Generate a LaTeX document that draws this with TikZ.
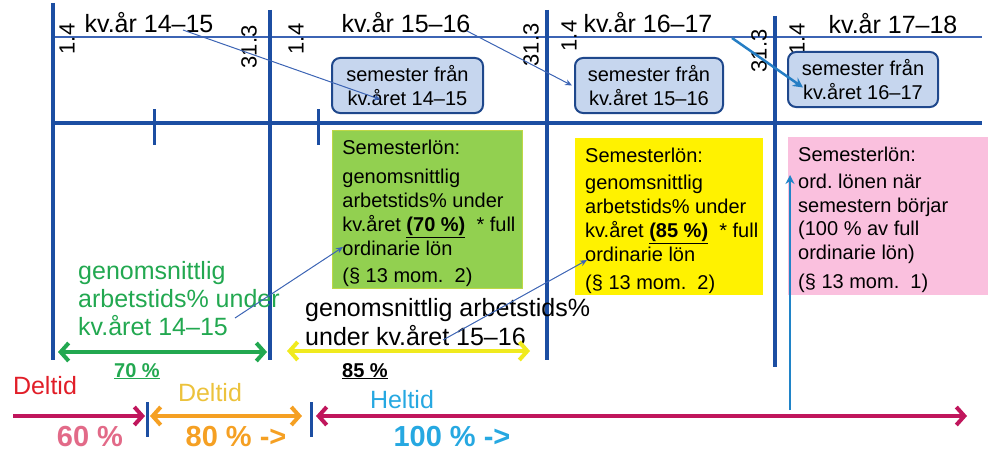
\documentclass[tikz,border=0pt]{standalone}
\usepackage{fontspec}
\setmainfont{Liberation Sans}
\usetikzlibrary{arrows.meta}

\definecolor{axisblue}{RGB}{28,78,162}
\definecolor{thinblue}{RGB}{60,100,180}
\definecolor{boxfill}{RGB}{198,214,238}
\definecolor{boxedge}{RGB}{31,72,140}
\definecolor{greenfill}{RGB}{146,208,80}
\definecolor{greenedge}{RGB}{190,215,70}
\definecolor{pinkfill}{RGB}{250,192,222}
\definecolor{textgreen}{RGB}{34,168,80}
\definecolor{crimson}{RGB}{192,22,92}
\definecolor{orangeline}{RGB}{245,160,35}
\definecolor{deltidred}{RGB}{225,30,40}
\definecolor{procpink}{RGB}{226,106,136}
\definecolor{deltidgold}{RGB}{236,194,60}
\definecolor{heltidblue}{RGB}{38,168,225}
\definecolor{upblue}{RGB}{32,132,200}
\definecolor{arrowyellow}{RGB}{240,234,30}

\tikzset{
  axis/.style={axisblue,line width=3.5pt},
  tickmark/.style={axisblue,line width=3pt},
  datum/.style={rotate=90,font=\fontsize{22}{24}\selectfont},
  kvtext/.style={font=\fontsize{25}{28}\selectfont},
  sembox/.style={draw=boxedge,line width=2pt,fill=boxfill,rounded corners=8pt,
    minimum width=151pt,minimum height=55pt,align=center,inner sep=2pt,
    font=\fontsize{20}{24}\selectfont},
  lonbox/.style={anchor=north west,inner xsep=0pt,inner ysep=10pt,
    font=\fontsize{20}{24}\selectfont},
  thinarrow/.style={thinblue,line width=1pt,-{Stealth[length=7pt,width=6pt]}},
  wide/.style={line width=4pt,{Straight Barb[length=8pt,width=18pt]}-{Straight Barb[length=8pt,width=18pt]}},
  freetext/.style={anchor=north west,align=left,inner sep=0pt},
}

\begin{document}
\begin{tikzpicture}[x=1pt,y=-1pt]
\useasboundingbox (0,0) rectangle (992,452);

	\draw[thinblue,line width=1.2pt] (53,37) -- (982,37);
	\draw[axis] (53,123) -- (982,123);
	\draw[axis] (53,3) -- (53,360);
	\draw[axis] (270,10) -- (270,360);
	\draw[axis] (547,10) -- (547,360);
	\draw[axis] (775,16) -- (775,367);
	\draw[tickmark] (154,109) -- (154,145);
	\draw[tickmark] (318,109) -- (318,145);

	\node (d1) at (67,39) [datum] {1.4};
	\node (d2) at (249,47) [datum] {31.3};
	\node (d3) at (296,39) [datum] {1.4};
	\node (d4) at (531,45) [datum] {31.3};
	\node (d5) at (569,36) [datum] {1.4};
	\node (d6) at (759,51) [datum] {31.3};
	\node (d7) at (797,39) [datum] {1.4};

	\node (kvA) at (149,23) [kvtext] {kv.år 14–15};
	\node (kvB) at (406,23) [kvtext] {kv.år 15–16};
	\node (kvC) at (648,23) [kvtext] {kv.år 16–17};
	\node (kvD) at (893,24) [kvtext] {kv.år 17–18};

	\node (semA) at (407.5,85.5) [sembox] {semester från\\kv.året 14–15};
	\node (semB) at (649,85.5) [sembox,minimum width=148pt] {semester från\\kv.året 15–16};
	\node (semC) at (863,79.5) [sembox,minimum width=150pt] {semester från\\kv.året 16–17};

	\draw[thinarrow] ([xshift=34pt,yshift=-7pt]kvA.center) -- ([xshift=-27pt,yshift=-14pt]semA.center);
	\draw[thinarrow] ([xshift=61pt,yshift=-8pt]kvB.center) -- ([xshift=-2pt]semB.west);
	\draw[upblue!80!thinblue,line width=2.5pt,-{Stealth[length=10pt,width=10pt]}]
		([xshift=84pt,yshift=-15pt]kvC.center) -- ([xshift=-60pt,yshift=-8pt]semC.center);

	% semesterlön
	\node (lonA) at (332,130) [lonbox,fill=greenfill,draw=greenedge,line width=0.8pt]
		{\begin{minipage}[t][138pt]{190pt}\leftskip=10pt
		Semesterlön:\\[5pt]
		genomsnittlig\\
		arbetstids\% under\\
		kv.året \underline{\textbf{(70 \%)}}\ \ * full\\
		ordinarie lön\\[3pt]
		(§ 13 mom.\ \ 2)
		\end{minipage}};
	\node (lonB) at (575,138) [lonbox,fill=yellow]
		{\begin{minipage}[t][137pt]{188pt}\leftskip=10pt
		Semesterlön:\\[3pt]
		genomsnittlig\\
		arbetstids\% under\\
		kv.året \underline{\textbf{(85 \%)}}\ \ * full\\
		ordinarie lön\\[4pt]
		(§ 13 mom.\ \ 2)
		\end{minipage}};
	\node (lonC) at (788,137) [lonbox,fill=pinkfill]
		{\begin{minipage}[t][138pt]{200pt}\leftskip=10pt
		Semesterlön:\\[3pt]
		ord.\ lönen när\\[-0.5pt]
		semestern börjar\\[-0.5pt]
		(100 \% av full\\[-0.5pt]
		ordinarie lön)\\[5pt]
		(§ 13 mom.\ \ 1)
		\end{minipage}};

	\node (snittA) at (78,261) [freetext,text=textgreen,font=\fontsize{25}{28}\selectfont]
		{genomsnittlig\\arbetstids\% under\\kv.året 14–15};
	\node (snittB) at (305,298) [freetext,font=\fontsize{25}{29}\selectfont]
		{genomsnittlig arbetstids\%\\under kv.året 15–16};

	\draw[thinarrow] ([xshift=157pt,yshift=-57pt]snittA.north west) -- ([xshift=11pt,yshift=-117pt]lonA.north west);
	\draw[thinarrow] ([xshift=138pt,yshift=-42pt]snittB.north west) -- ([xshift=12pt,yshift=-122pt]lonB.north west);

	\coordinate (gA) at (58,352);
	\coordinate (gB) at (267,352);
	\coordinate (yA) at (287,351);
	\coordinate (yB) at (530,351);
	\draw[wide,textgreen] (gA) -- (gB);
	\draw[wide,arrowyellow] (yA) -- (yB);

	\node (pA) at (137,377) [anchor=base,text=textgreen,font=\bfseries\fontsize{20}{24}\selectfont] {\underline{70 \%}};
	\node (pB) at (365,377) [anchor=base,font=\bfseries\fontsize{20}{24}\selectfont] {\underline{85 \%}};

	% tidslinje
	\coordinate (t0) at (13,416);
	\coordinate (t1) at (145,416);
	\coordinate (t2) at (150,416);
	\coordinate (t3) at (302,416);
	\coordinate (t4) at (316,416);
	\coordinate (t5) at (967,416);
	\draw[crimson,line width=4pt,-{Straight Barb[length=8pt,width=18pt]}] (t0) -- (t1);
	\draw[wide,orangeline] (t2) -- (t3);
	\draw[wide,crimson] (t4) -- (t5);
	\draw[tickmark] (147,402) -- (147,437);
	\draw[tickmark] (311,402) -- (311,437);

	\coordinate (upstart) at (790,410);
	\draw[upblue,line width=2.5pt,-{Stealth[length=9pt,width=9pt]}] (upstart) -- ([xshift=2pt,yshift=-38pt]lonC.north west);

	\node (delA) at (45,386) [text=deltidred,font=\fontsize{25}{28}\selectfont] {Deltid};
	\node (procA) at (90,437) [text=procpink,font=\bfseries\fontsize{29}{32}\selectfont] {60 \%};
	\node (delB) at (210,393) [text=deltidgold,font=\fontsize{25}{28}\selectfont] {Deltid};
	\node (procB) at (236,437) [text=orangeline,font=\bfseries\fontsize{29}{32}\selectfont] {80 \% ->};
	\node (hel) at (402,400) [text=heltidblue,font=\fontsize{25}{28}\selectfont] {Heltid};
	\node (procC) at (452,437) [text=heltidblue,font=\bfseries\fontsize{29}{32}\selectfont] {100 \% ->};

\end{tikzpicture}
\end{document}
